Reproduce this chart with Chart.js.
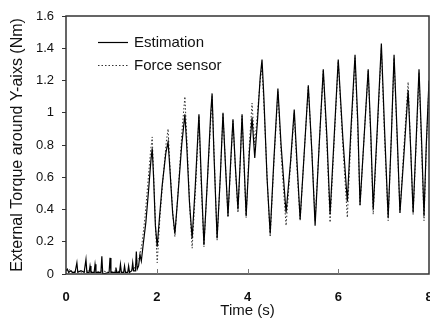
<!DOCTYPE html>
<html>
<head>
<meta charset="utf-8">
<script src="https://cdn.jsdelivr.net/npm/chart.js@4/dist/chart.umd.min.js"></script>
<style>
  html, body { margin: 0; padding: 0; background: #fff; }
  #wrap { width: 430px; height: 320px; }
</style>
</head>
<body>
<div id="wrap"><canvas id="c" width="430" height="320"></canvas></div>
<script>
// ---- data ----
const xTicks = [0, 2, 4, 6, 8];
const yTicks = [0, 0.2, 0.4, 0.6, 0.8, 1, 1.2, 1.4, 1.6];
const seriesNames = ["Estimation", "Force sensor"];
const axisTitles = ["Time (s)", "External Torque around Y-aixs (Nm)"];

const estTime = [0.00,0.03,0.06,0.10,0.14,0.20,0.24,0.26,0.33,0.40,0.44,0.46,0.51,0.53,0.55,0.62,0.64,0.66,0.77,0.79,0.81,0.95,0.97,0.99,1.08,1.10,1.12,1.18,1.20,1.22,1.27,1.29,1.31,1.36,1.38,1.40,1.45,1.47,1.49,1.53,1.55,1.57,1.60,1.63,1.66,1.70,1.76,1.82,1.87,1.90,1.93,1.97,2.01,2.06,2.12,2.20,2.25,2.29,2.35,2.40,2.47,2.55,2.62,2.66,2.72,2.78,2.85,2.93,2.98,3.04,3.12,3.19,3.22,3.26,3.33,3.40,3.46,3.51,3.57,3.63,3.68,3.73,3.79,3.84,3.88,3.93,3.97,4.04,4.10,4.16,4.22,4.28,4.32,4.36,4.43,4.50,4.58,4.67,4.74,4.85,4.95,5.03,5.09,5.16,5.25,5.34,5.42,5.49,5.58,5.67,5.75,5.82,5.91,6.00,6.10,6.20,6.28,6.37,6.43,6.48,6.57,6.66,6.72,6.77,6.86,6.95,7.02,7.10,7.17,7.23,7.30,7.36,7.45,7.54,7.60,7.65,7.72,7.78,7.84,7.89,7.94,8.00];
const estValue = [0.02,0.03,0.01,0.02,0.01,0.01,0.07,0.01,0.02,0.01,0.09,0.01,0.01,0.05,0.01,0.01,0.06,0.01,0.01,0.11,0.00,0.01,0.10,0.01,0.01,0.04,0.01,0.01,0.06,0.01,0.01,0.05,0.01,0.01,0.05,0.01,0.02,0.07,0.02,0.02,0.14,0.03,0.05,0.12,0.08,0.18,0.32,0.52,0.70,0.78,0.60,0.30,0.17,0.35,0.55,0.75,0.82,0.65,0.38,0.25,0.50,0.80,0.99,0.80,0.45,0.22,0.55,0.99,0.60,0.18,0.60,1.00,1.12,0.75,0.22,0.60,1.00,0.70,0.36,0.70,0.96,0.68,0.40,0.70,0.99,0.65,0.36,0.75,0.97,0.72,0.95,1.22,1.33,1.10,0.60,0.25,0.70,1.15,0.80,0.38,0.70,1.02,0.70,0.34,0.75,1.17,0.75,0.30,0.80,1.27,0.85,0.37,0.85,1.33,0.85,0.45,0.90,1.36,0.95,0.43,0.85,1.27,0.85,0.40,0.90,1.43,0.90,0.35,0.85,1.36,0.85,0.38,0.75,1.14,0.75,0.38,0.85,1.27,0.80,0.36,0.80,1.20];

const forceTime = [0.00,0.05,0.10,0.15,0.25,0.35,0.50,0.65,0.80,0.95,1.10,1.25,1.40,1.50,1.56,1.62,1.68,1.74,1.80,1.86,1.90,1.94,1.98,2.01,2.07,2.14,2.21,2.25,2.30,2.36,2.40,2.48,2.56,2.62,2.67,2.73,2.78,2.86,2.93,2.98,3.04,3.13,3.22,3.27,3.33,3.40,3.46,3.52,3.57,3.63,3.68,3.74,3.79,3.84,3.88,3.93,3.97,4.04,4.10,4.16,4.22,4.28,4.32,4.37,4.44,4.50,4.58,4.67,4.75,4.85,4.95,5.03,5.09,5.16,5.25,5.34,5.42,5.49,5.58,5.67,5.75,5.82,5.91,6.00,6.10,6.20,6.28,6.37,6.43,6.48,6.57,6.66,6.72,6.77,6.86,6.95,7.02,7.10,7.17,7.23,7.30,7.36,7.45,7.54,7.60,7.65,7.72,7.78,7.84,7.89,7.94,8.00];
const forceValue = [0.03,0.02,0.03,0.01,0.02,0.01,0.02,0.01,0.02,0.01,0.02,0.01,0.02,0.03,0.08,0.10,0.20,0.35,0.55,0.75,0.85,0.55,0.25,0.07,0.35,0.60,0.82,0.90,0.62,0.35,0.23,0.55,0.90,1.10,0.80,0.40,0.16,0.55,0.98,0.55,0.17,0.65,1.10,0.70,0.21,0.60,0.99,0.65,0.35,0.68,0.95,0.62,0.38,0.70,0.98,0.62,0.35,0.80,1.06,0.80,1.00,1.20,1.28,1.00,0.55,0.23,0.68,1.13,0.70,0.30,0.68,1.00,0.65,0.33,0.75,1.16,0.75,0.33,0.80,1.26,0.80,0.32,0.82,1.32,0.80,0.35,0.85,1.34,0.90,0.42,0.85,1.26,0.82,0.37,0.88,1.40,0.85,0.33,0.85,1.34,0.82,0.38,0.80,1.19,0.75,0.37,0.82,1.25,0.75,0.33,0.78,1.18];

const FONT = '"Liberation Sans", Arial, sans-serif';
const toPoints = (xs, ys) => xs.map((x, i) => ({ x: x, y: ys[i] }));

const framePlugin = {
  id: 'frame',
  afterDraw(chart) {
    const ctx = chart.ctx, a = chart.chartArea;
    const xs = chart.scales.x;
    ctx.save();
    ctx.strokeStyle = '#333';
    ctx.lineWidth = 1.5;
    ctx.strokeRect(a.left, a.top, a.right - a.left, a.bottom - a.top);
    // inward x ticks
    ctx.lineWidth = 1;
    ctx.strokeStyle = '#777';
    xTicks.forEach(v => {
      if (v <= xs.min || v >= xs.max) return;
      const px = Math.round(xs.getPixelForValue(v)) + 0.5;
      ctx.beginPath(); ctx.moveTo(px, a.bottom); ctx.lineTo(px, a.bottom - 5); ctx.stroke();
    });
    // legend inside the plot area
    const ds = chart.data.datasets;
    ctx.font = '15px ' + FONT;
    ctx.textBaseline = 'middle';
    ctx.fillStyle = '#111';
    ds.forEach((d, i) => {
      const y = a.top + 26 + i * 23;
      ctx.beginPath();
      ctx.strokeStyle = d.borderColor;
      ctx.lineWidth = d.borderWidth;
      ctx.setLineDash(d.borderDash || []);
      ctx.moveTo(a.left + 32, y + 0.5); ctx.lineTo(a.left + 62, y + 0.5);
      ctx.stroke();
      ctx.setLineDash([]);
      ctx.fillText(d.label, a.left + 68, y + 1);
    });
    ctx.restore();
  }
};

new Chart(document.getElementById('c'), {
  type: 'line',
  data: {
    datasets: [
      { label: seriesNames[0], data: toPoints(estTime, estValue), borderColor: '#000', borderWidth: 1.2, pointRadius: 0, tension: 0, fill: false },
      { label: seriesNames[1], data: toPoints(forceTime, forceValue), borderColor: '#333', borderWidth: 1, borderDash: [1.5, 2], pointRadius: 0, tension: 0, fill: false }
    ]
  },
  options: {
    responsive: false,
    animation: false,
    devicePixelRatio: 1,
    layout: { padding: { top: 16, right: 1, left: 0, bottom: 0 } },
    plugins: { legend: { display: false }, tooltip: { enabled: false } },
    scales: {
      x: {
        type: 'linear', min: 0, max: 8,
        afterBuildTicks: s => { s.ticks = xTicks.map(v => ({ value: v })); },
        afterFit: s => { s.height = 46; s.paddingRight = 0; s.paddingLeft = 0; },
        grid: { display: true, drawOnChartArea: false, drawTicks: false },
        border: { display: false },
        ticks: { color: '#111', padding: 16, font: { family: FONT, size: 13, weight: 'bold' }, maxRotation: 0, autoSkip: false },
        title: { display: true, text: axisTitles[0], color: '#111', font: { family: FONT, size: 15 }, padding: { top: 0, bottom: 0 } }
      },
      y: {
        min: 0, max: 1.6,
        afterBuildTicks: s => { s.ticks = yTicks.map(v => ({ value: v })); },
        afterFit: s => { s.width = 66; s.paddingTop = 0; s.paddingBottom = 0; },
        grid: { display: true, drawOnChartArea: false, drawTicks: true, tickLength: 4, color: '#333' },
        border: { display: false },
        ticks: { color: '#111', padding: 8, font: { family: FONT, size: 13 }, callback: v => String(Number(v.toFixed(1))) },
        title: { display: true, text: axisTitles[1], color: '#111', font: { family: FONT, size: 16 }, padding: { top: 8, bottom: 0 } }
      }
    }
  },
  plugins: [framePlugin]
});
</script>
</body>
</html>
